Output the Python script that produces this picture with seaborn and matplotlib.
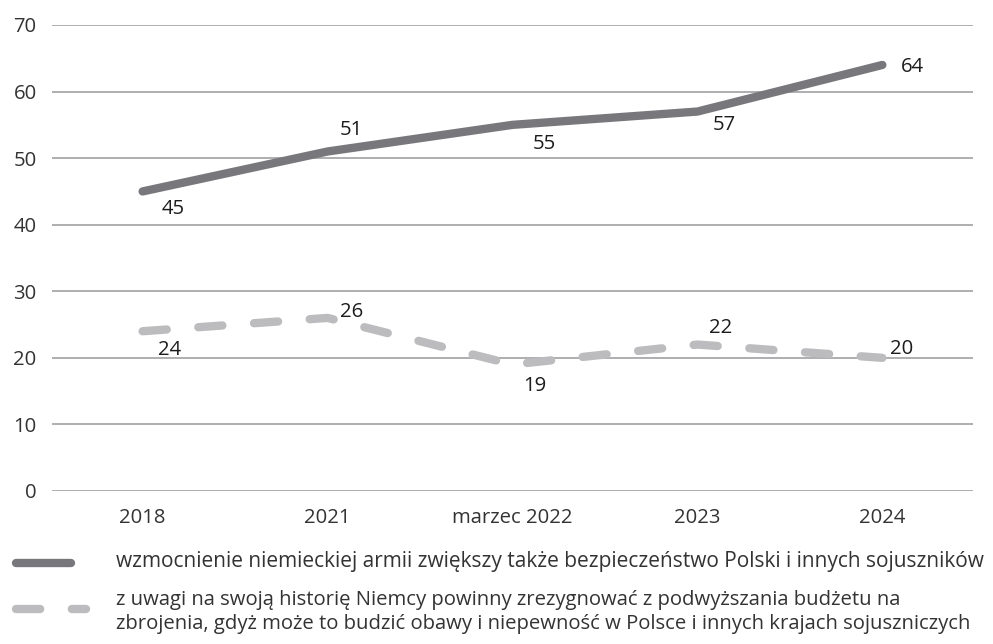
import matplotlib
matplotlib.use("Agg")
import matplotlib.pyplot as plt
from matplotlib.lines import Line2D
import seaborn as sns
import pandas as pd

categories = ["2018", "2021", "marzec 2022", "2023", "2024"]
wzmocnienie = [45, 51, 55, 57, 64]
zrezygnowac = [24, 26, 19, 22, 20]
series_names = [
    "wzmocnienie niemieckiej armii zwiększy także bezpieczeństwo Polski i innych sojuszników",
    "z uwagi na swoją historię Niemcy powinny zrezygnować z podwyższania budżetu na\n"
    "zbrojenia, gdyż może to budzić obawy i niepewność w Polsce i innych krajach sojuszniczych",
]
y_ticks = [0, 10, 20, 30, 40, 50, 60, 70]

sns.set_theme(style="white")
plt.rcParams["font.family"] = ["Open Sans", "DejaVu Sans"]

DARK = "#78787c"
LIGHT = "#bcbcbf"
GRID = "#a8a8aa"
TEXT = "#333333"
FS = 14.6
LW = 6
DASH = (2.9, 3.8)

df = pd.DataFrame({
    "x": list(range(len(categories))) * 2,
    "wartosc": wzmocnienie + zrezygnowac,
    "seria": [series_names[0]] * len(categories) + [series_names[1]] * len(categories),
})

fig = plt.figure(figsize=(9.93, 6.44), dpi=100)
ax = fig.add_axes([52 / 993, (644 - 491) / 644, (973 - 52) / 993, (491 - 25) / 644])

sns.lineplot(data=df, x="x", y="wartosc", hue="seria", style="seria",
             palette=[DARK, LIGHT], dashes=[(None, None), DASH],
             linewidth=LW, legend=False, ax=ax, zorder=3)
for line in ax.get_lines():
    line.set_solid_capstyle("round")
    line.set_dash_capstyle("round")
    line.set_solid_joinstyle("round")
    line.set_dash_joinstyle("round")

ax.set_xlim(-0.49, len(categories) - 1 + 0.49)
ax.set_ylim(0, 70)
ax.set_yticks(y_ticks)
ax.set_xticks(range(len(categories)))
ax.set_xticklabels(categories)
ax.set_xlabel("")
ax.set_ylabel("")
ax.grid(axis="y", color=GRID, linewidth=1.3)
ax.set_axisbelow(True)
for s in ax.spines.values():
    s.set_visible(False)
ax.tick_params(axis="both", length=0, labelsize=FS, labelcolor=TEXT)
ax.tick_params(axis="y", pad=11)
ax.tick_params(axis="x", pad=12)

# value labels: label-centre offsets (points) from each data point
offs_top = [(22, -11), (17, 17.5), (23, -12), (19.5, -8), (21.5, 0)]
offs_bot = [(19.5, -11.5), (17, 6), (16, -14), (16.5, 14), (13.5, 8)]
for vals, offs in ((wzmocnienie, offs_top), (zrezygnowac, offs_bot)):
    for i, v in enumerate(vals):
        dx, dy = offs[i]
        ax.annotate(str(v), (i, v), xytext=(dx, dy), textcoords="offset points",
                    ha="center", va="center_baseline", fontsize=FS, color="#1c1c1c",
                    fontweight="medium")

# legend drawn beneath the plot
fig.add_artist(Line2D([16 / 993, 71 / 993], [1 - 563 / 644] * 2, color=DARK, linewidth=LW,
                      solid_capstyle="round", transform=fig.transFigure))
fig.add_artist(Line2D([16 / 993, 86 / 993], [1 - 609 / 644] * 2, color=LIGHT, linewidth=LW,
                      dashes=DASH, dash_capstyle="round", transform=fig.transFigure))
fig.text(116 / 993, 1 - 562 / 644, series_names[0], ha="left", va="center",
         fontsize=15.0, color=TEXT)
fig.text(116 / 993, 1 - 612 / 644, series_names[1], ha="left", va="center",
         fontsize=14.6, color=TEXT, linespacing=1.2)

fig.savefig("out.png", dpi=100)
